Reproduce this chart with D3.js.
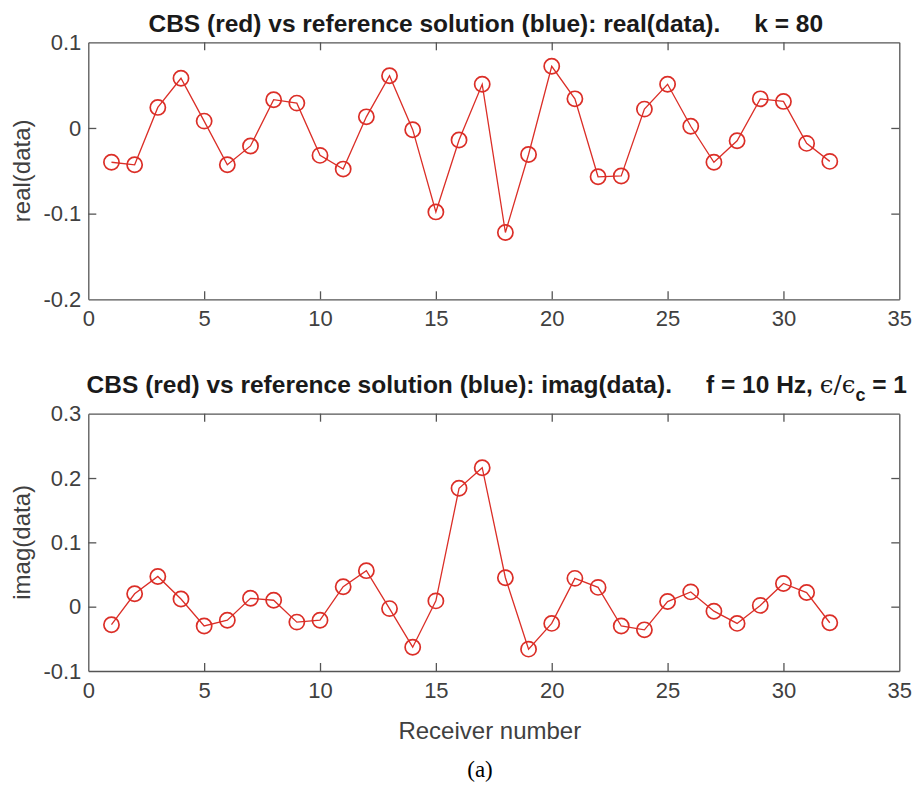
<!DOCTYPE html>
<html>
<head>
<meta charset="utf-8">
<script src="https://cdn.jsdelivr.net/npm/d3@7"></script>
<style>
  body { margin: 0; background: #fff; }
  svg { display: block; }
</style>
</head>
<body>
<div id="chart"></div>
<script>
/*
  CBS vs reference solution: real and imaginary parts per receiver
*/

var receivers = [1, 2, 3, 4, 5, 6, 7, 8, 9, 10, 11, 12, 13, 14, 15, 16,
                 17, 18, 19, 20, 21, 22, 23, 24, 25, 26, 27, 28, 29, 30, 31, 32];

var realData = [-0.040, -0.043, 0.024, 0.058, 0.008, -0.043, -0.021, 0.033,
                0.029, -0.032, -0.048, 0.013, 0.061, -0.002, -0.098, -0.014,
                0.051, -0.122, -0.031, 0.072, 0.034, -0.057, -0.056, 0.022,
                0.051, 0.002, -0.040, -0.015, 0.034, 0.031, -0.018, -0.039];

var imagData = [-0.028, 0.020, 0.047, 0.012, -0.030, -0.021, 0.013, 0.010,
                -0.024, -0.021, 0.031, 0.056, -0.003, -0.063, 0.009, 0.184,
                0.216, 0.045, -0.066, -0.026, 0.044, 0.030, -0.030, -0.036,
                0.008, 0.023, -0.007, -0.026, 0.002, 0.036, 0.022, -0.025];

var xTicks = [0, 5, 10, 15, 20, 25, 30, 35],
    realTicks = [-0.2, -0.1, 0, 0.1],
    imagTicks = [-0.1, 0, 0.1, 0.2, 0.3];

var width = 916, height = 797,
    left = 88.3, right = 899.3,
    red = "#db2e27",
    axisColor = "#555555",
    textColor = "#404040",
    sans = "'Liberation Sans', Arial, Helvetica, sans-serif";

var svg = d3.select("#chart").append("svg")
    .attr("width", width)
    .attr("height", height);

var x = d3.scaleLinear().domain([0, 35]).range([left, right]);

function fmt(d) { return d === 0 ? "0" : String(d); }

function drawPanel(values, yDomain, yTicks, top, bottom, yLabel) {
  var y = d3.scaleLinear().domain(yDomain).range([bottom, top]);
  var g = svg.append("g");

  // box with inward ticks on all four sides
  var axB = g.append("g").attr("transform", "translate(0," + bottom + ")")
    .call(d3.axisBottom(x).tickValues(xTicks).tickFormat(fmt)
      .tickSizeInner(-8).tickSizeOuter(0).tickPadding(11));
  var axT = g.append("g").attr("transform", "translate(0," + top + ")")
    .call(d3.axisTop(x).tickValues(xTicks).tickFormat("")
      .tickSizeInner(-8).tickSizeOuter(0));
  var axL = g.append("g").attr("transform", "translate(" + left + ",0)")
    .call(d3.axisLeft(y).tickValues(yTicks).tickFormat(fmt)
      .tickSizeInner(-8).tickSizeOuter(0).tickPadding(7));
  var axR = g.append("g").attr("transform", "translate(" + right + ",0)")
    .call(d3.axisRight(y).tickValues(yTicks).tickFormat("")
      .tickSizeInner(-8).tickSizeOuter(0));

  [axB, axT, axL, axR].forEach(function(a){
    a.selectAll("path, line")
      .attr("stroke", axisColor)
      .attr("stroke-width", 1.3);
    a.selectAll("text")
      .attr("fill", textColor)
      .style("font-family", sans)
      .style("font-size", "22px");
  });
  // drop the ticks that would sit on the box corners
  [axB, axT].forEach(function(a){
    a.selectAll(".tick").filter(function(d){ return d === 0 || d === 35; })
      .select("line").remove();
  });
  [axL, axR].forEach(function(a){
    a.selectAll(".tick").filter(function(d){ return d === yDomain[0] || d === yDomain[1]; })
      .select("line").remove();
  });

  var line = d3.line()
    .x(function(d, i) { return x(receivers[i]); })
    .y(function(d) { return y(d); });

  g.append("path")
    .datum(values)
    .attr("fill", "none")
    .attr("stroke", red)
    .attr("stroke-width", 1.3)
    .attr("d", line);

  g.selectAll(".marker")
    .data(values)
    .enter().append("circle")
      .attr("class", "marker")
      .attr("cx", function(d, i) { return x(receivers[i]); })
      .attr("cy", function(d) { return y(d); })
      .attr("r", 7.6)
      .attr("fill", "none")
      .attr("stroke", red)
      .attr("stroke-width", 1.7);

  //Label for Y axis
  g.append("text")
    .attr("transform", "translate(30," + ((top + bottom) / 2) + ") rotate(-90)")
    .style("text-anchor", "middle")
    .style("font-family", sans)
    .style("font-size", "24px")
    .attr("fill", textColor)
    .text(yLabel);

  return g;
}

var top1 = 42.3, bottom1 = 299.3,
    top2 = 413.7, bottom2 = 671;

drawPanel(realData, [-0.2, 0.1], realTicks, top1, bottom1, "real(data)");
drawPanel(imagData, [-0.1, 0.3], imagTicks, top2, bottom2, "imag(data)");

var mid = (left + right) / 2;

// titles
svg.append("text")
  .attr("x", mid - 8)
  .attr("y", 32)
  .style("text-anchor", "middle")
  .style("font-family", sans)
  .style("font-size", "24.5px")
  .style("font-weight", "bold")
  .style("white-space", "pre")
  .attr("fill", "#1a1a1a")
  .text("CBS (red) vs reference solution (blue): real(data).     k = 80");

var t2 = svg.append("text")
  .attr("x", mid + 3)
  .attr("y", 393)
  .style("text-anchor", "middle")
  .style("font-family", sans)
  .style("font-size", "24.5px")
  .style("font-weight", "bold")
  .style("white-space", "pre")
  .attr("fill", "#1a1a1a");
t2.append("tspan").text("CBS (red) vs reference solution (blue): imag(data).     f = 10 Hz, ");
t2.append("tspan").style("font-weight", "normal").style("font-family", "'DejaVu Serif', serif").text("\u03F5/\u03F5");
t2.append("tspan").attr("dy", 8).style("font-size", "18px").text("c");
t2.append("tspan").attr("dy", -8).text(" = 1");

// x axis label
svg.append("text")
  .attr("x", mid - 4)
  .attr("y", 739)
  .style("text-anchor", "middle")
  .style("font-family", sans)
  .style("font-size", "24px")
  .attr("fill", textColor)
  .text("Receiver number");

// caption
svg.append("text")
  .attr("x", 480)
  .attr("y", 777)
  .style("text-anchor", "middle")
  .style("font-family", "'Liberation Serif', 'Times New Roman', serif")
  .style("font-size", "23px")
  .attr("fill", "#000")
  .text("(a)");
</script>
</body>
</html>
